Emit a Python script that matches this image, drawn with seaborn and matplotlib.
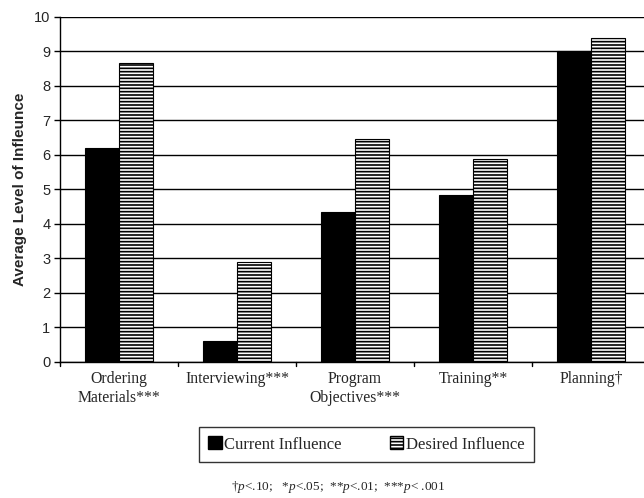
import matplotlib
matplotlib.use("Agg")
import matplotlib.pyplot as plt
import seaborn as sns
import pandas as pd
from matplotlib.patches import Patch

categories = ["Ordering\nMaterials***", "Interviewing***", "Program\nObjectives***", "Training**", "Planning\u2020"]
current = [6.2, 0.6, 4.35, 4.84, 9.01]
desired = [8.65, 2.9, 6.45, 5.87, 9.38]
series = ["Current Influence", "Desired Influence"]
yticks = list(range(0, 11))

sns.set_theme(style="white")
plt.rcParams['font.family'] = ['Liberation Sans', 'DejaVu Sans']
plt.rcParams['mathtext.fontset'] = 'custom'
plt.rcParams['mathtext.rm'] = 'Liberation Serif'
plt.rcParams['mathtext.it'] = 'Liberation Serif:italic'
plt.rcParams['hatch.linewidth'] = 1.2

df = pd.DataFrame({
    "cat": categories * 2,
    "val": current + desired,
    "series": [series[0]] * 5 + [series[1]] * 5,
})

fig = plt.figure(figsize=(6.44, 4.98), dpi=100)
ax = fig.add_axes([60 / 644, 136.3 / 498, 590 / 644, 345 / 498])
sns.barplot(data=df, x="cat", y="val", hue="series", palette=["black", "white"],
            edgecolor="black", linewidth=0.8, width=0.58, ax=ax, legend=False,
            saturation=1)
for p in ax.containers[1]:
    p.set_hatch("-----")

ax.set_ylim(0, 10)
ax.set_xlim(-0.5, 4.5)
ax.set_yticks(yticks)
ax.yaxis.grid(True, color="black", linewidth=1.0)
ax.set_axisbelow(True)
ax.tick_params(axis="y", labelsize=10.5, length=4, width=1, color="black", pad=3, left=True)
ax.set_xticks([i for i in range(5)])
ax.set_xticklabels(categories, fontfamily="Liberation Serif", fontsize=11.3)
ax.tick_params(axis="x", length=0, pad=7)
for xb in [-0.5, 0.5, 1.5, 2.5, 3.5]:
    ax.plot([xb, xb], [0, -0.13], color="black", lw=1, clip_on=False)
for s in ["top", "right"]:
    ax.spines[s].set_visible(False)
ax.spines["left"].set_color("black")
ax.spines["bottom"].set_color("black")
ax.spines["left"].set_linewidth(1)
ax.spines["bottom"].set_linewidth(1)
ax.set_xlabel("")
ax.set_ylabel("Average Level of Infleunce", fontsize=11, fontweight="bold", labelpad=5)

handles = [Patch(facecolor="black", edgecolor="black", label=series[0]),
           Patch(facecolor="white", edgecolor="black", hatch="-----", label=series[1])]
leg = fig.legend(handles=handles, loc="center", bbox_to_anchor=(366.5 / 644, 1 - 444.5 / 498),
                 ncol=2, frameon=True, fancybox=False, edgecolor="black",
                 prop={"family": "Liberation Serif", "size": 12},
                 handlelength=0.8, handleheight=0.8, handletextpad=0.15, columnspacing=2.9,
                 borderpad=0.55, borderaxespad=0)
leg.get_frame().set_linewidth(1)

fig.text(338 / 644, 1 - 487 / 498,
         "\u2020$p$<.10;   *$p$<.05;  **$p$<.01;  ***$p$< .001",
         ha="center", va="center", fontfamily="Liberation Serif", fontsize=9.5)

fig.savefig("out.png", dpi=100)
